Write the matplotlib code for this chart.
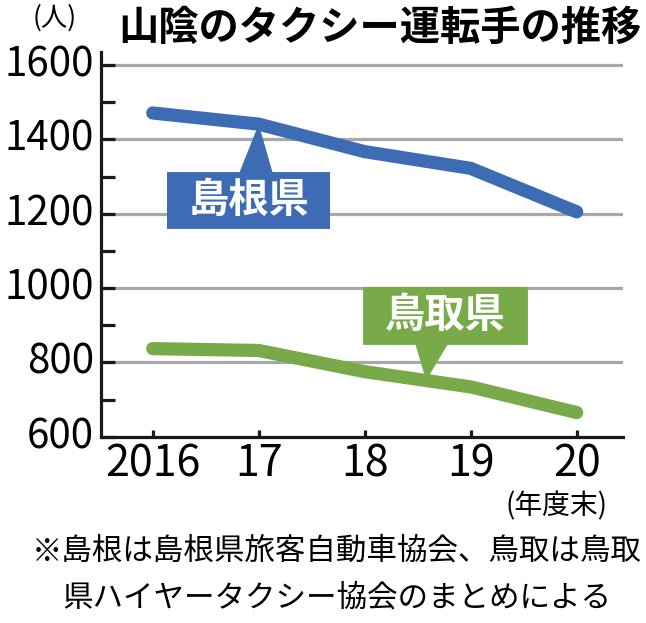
import matplotlib
matplotlib.use("Agg")
import matplotlib.pyplot as plt
from matplotlib.patches import Polygon
from matplotlib.ticker import MultipleLocator
import numpy as np

plt.rcParams["font.family"] = ["Noto Sans CJK JP", "DejaVu Sans"]

years = [2016, 2017, 2018, 2019, 2020]
year_labels = ["2016", "17", "18", "19", "20"]
shimane = [1471, 1441, 1367, 1322, 1205]
tottori = [837, 832, 775, 734, 665]

BLUE = "#3D6CB4"
GREEN = "#78AA4A"
GRID = "#A8A8A8"

fig = plt.figure(figsize=(6.46, 6.23), dpi=100)
ax = fig.add_axes([0.1563, 0.299, 0.8081, 0.6175])

ax.set_xlim(2015.512, 2020.437)
ax.set_ylim(600, 1635)

for y in range(800, 1601, 200):
    ax.axhline(y, color=GRID, lw=2.3, zorder=1)

ax.plot(years, shimane, color=BLUE, lw=9.5, solid_capstyle="round",
        solid_joinstyle="round", zorder=4)
ax.plot(years, tottori, color=GREEN, lw=9.5, solid_capstyle="round",
        solid_joinstyle="round", zorder=4)


def callout(ax, box, base, apex, color, text):
    x0, x1, y0, y1 = box
    # box with a triangle pointing to the line
    if apex[1] > y1:
        pts = [(x0, y0), (x1, y0), (x1, y1), (base[1], y1), apex, (base[0], y1), (x0, y1)]
    else:
        pts = [(x0, y1), (x1, y1), (x1, y0), (base[1], y0), apex, (base[0], y0), (x0, y0)]
    ax.add_patch(Polygon(pts, closed=True, facecolor=color, edgecolor="none", zorder=3))
    ax.text((x0 + x1) / 2, (y0 + y1) / 2, text, color="white", fontsize=29,
            fontweight="bold", ha="center", va="center", zorder=5)


callout(ax, (2016.135, 2017.673, 1159, 1312), (2016.82, 2017.13),
        (years[1], shimane[1]), BLUE, "島根県")
tx = 2018.58
callout(ax, (2017.985, 2019.54, 847, 1003), (2018.48, 2018.78),
        (tx, float(np.interp(tx, years, tottori))), GREEN, "鳥取県")

ax.spines["top"].set_visible(False)
ax.spines["right"].set_visible(False)
for s in ("left", "bottom"):
    ax.spines[s].set_linewidth(2.3)
    ax.spines[s].set_color("#1a1a1a")

ax.set_xticks(years)
ax.set_xticklabels(year_labels)
ax.yaxis.set_major_locator(MultipleLocator(200))
ax.yaxis.set_minor_locator(MultipleLocator(100))
ax.tick_params(axis="y", which="both", direction="in", length=10, width=2.3,
               labelsize=29, pad=5, color="#1a1a1a")
ax.tick_params(axis="x", direction="in", length=5, width=2.3, labelsize=31,
               pad=4, color="#1a1a1a")
for lab in ax.get_yticklabels():
    lab.set_va("center")

fig.text(118 / 646, 1 - 28 / 623, "山陰のタクシー運転手の推移", fontsize=29,
         fontweight="bold", ha="left", va="center")
fig.text(55 / 646, 1 - 18 / 623, "(人)", fontsize=19, ha="center", va="center")
fig.text(556 / 646, 1 - 506 / 623, "(年度末)", fontsize=20, ha="center", va="center")
fig.text(337 / 646, 1 - 551 / 623, "※島根は島根県旅客自動車協会、鳥取は鳥取",
         fontsize=22, ha="center", va="center")
fig.text(337 / 646, 1 - 598 / 623, "県ハイヤータクシー協会のまとめによる",
         fontsize=22, ha="center", va="center")

fig.savefig("out.png", dpi=100, facecolor="white")
